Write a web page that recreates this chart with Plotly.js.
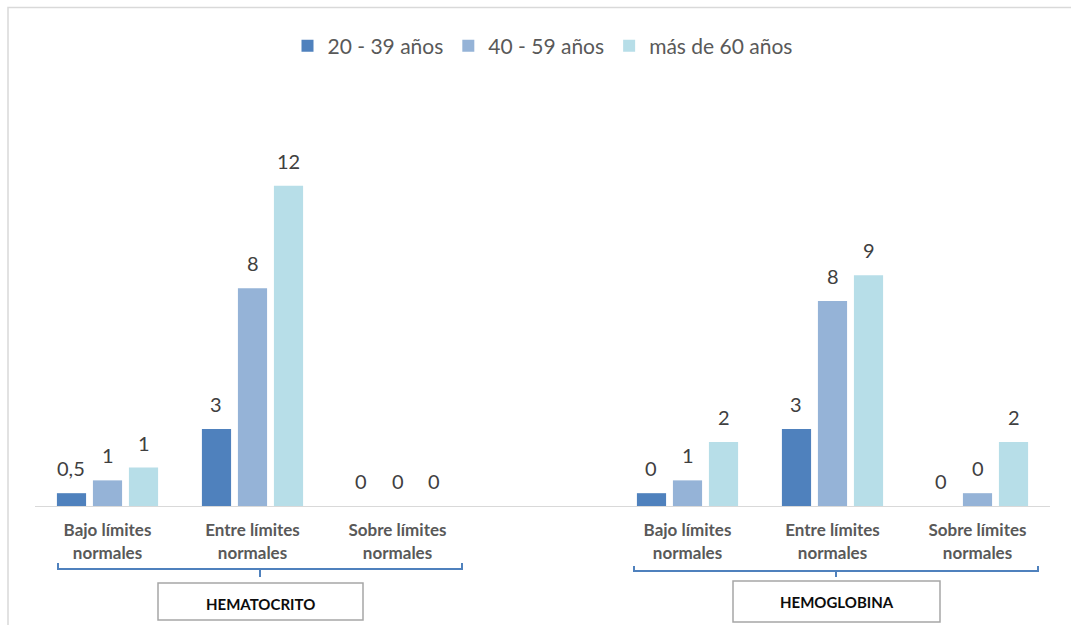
<!DOCTYPE html>
<html>
<head>
<meta charset="utf-8">
<script src="https://cdn.plot.ly/plotly-3.0.1.min.js"></script>
<style>html,body{margin:0;padding:0;background:#fff}#chart{width:1071px;height:625px}</style>
</head>
<body>
<div id="chart"></div>
<script>
// ---- data ----
var categories = ['Bajo límites<br>normales', 'Entre límites<br>normales', 'Sobre límites<br>normales',
                  'Bajo límites<br>normales', 'Entre límites<br>normales', 'Sobre límites<br>normales'];
var positions = [0, 1, 2, 4, 5, 6];
var groupNames = ['HEMATOCRITO', 'HEMOGLOBINA'];
var seriesNames = ['20 - 39 años', '40 - 59 años', 'más de 60 años'];
var values20_39 = [0.5, 3, 0, 0.5, 3, 0];
var values40_59 = [1, 8.5, 0, 1, 8, 0.5];
var values60 = [1.5, 12.5, 0, 2.5, 9, 2.5];
var labels20_39 = ['0,5', '3', '0', '0', '3', '0'];
var labels40_59 = ['1', '8', '0', '1', '8', '0'];
var labels60 = ['1', '12', '0', '2', '9', '2'];

// ---- style ----
var colors = ['#4F81BD', '#95B3D7', '#B7DEE8'];
var FONT = 'Lato, "Open Sans", sans-serif';
var W = 1071, H = 625, ML = 35, MR = 21, MT = 80, MB = 119;
var BARGAP = 0.255, BARGROUPGAP = 0.19;
var pw = W - ML - MR, ph = H - MT - MB;
function X(px) { return (px - ML) / pw; }
function Y(py) { return (H - MB - py) / ph; }

var allValues = [values20_39, values40_59, values60];
var allLabels = [labels20_39, labels40_59, labels60];

var traces = allValues.map(function (vals, s) {
  return {
    type: 'bar', x: positions, y: vals, name: seriesNames[s],
    marker: { color: colors[s] }, hoverinfo: 'skip'
  };
});

// value labels above each bar
var annotations = [];
var slot = (1 - BARGAP) / 3;
allValues.forEach(function (vals, s) {
  vals.forEach(function (v, i) {
    annotations.push({
      x: positions[i] + (s - 1) * slot, y: v, xref: 'x', yref: 'y',
      text: allLabels[s][i], showarrow: false, yanchor: 'middle', yshift: 25,
      font: { family: FONT, size: 20, color: '#404040' }
    });
  });
});

// group labels in boxes
var boxes = [[158, 583, 363, 620, 260, 604], [733, 581, 940, 622, 837, 602]];
boxes.forEach(function (b, g) {
  annotations.push({
    x: X(b[4]), y: Y(b[5]), xref: 'paper', yref: 'paper', text: '<b>' + groupNames[g] + '</b>',
    showarrow: false, xanchor: 'center', yanchor: 'middle',
    font: { family: FONT, size: 15, color: '#0d0d0d' }
  });
});

var shapes = [];
// outer chart border
shapes.push({ type: 'rect', xref: 'paper', yref: 'paper', x0: X(8), x1: X(1090), y0: Y(7.5), y1: Y(640),
  line: { color: '#D9D9D9', width: 1.5 }, fillcolor: 'rgba(0,0,0,0)', layer: 'below' });
// brackets
var brackets = [[58, 462, 569, 563, 260, 577], [634, 1038, 571, 566, 836, 577]];
brackets.forEach(function (b) {
  var p = 'M' + X(b[0]) + ',' + Y(b[3]) + ' L' + X(b[0]) + ',' + Y(b[2]) + ' L' + X(b[1]) + ',' + Y(b[2]) +
    ' L' + X(b[1]) + ',' + Y(b[3]);
  shapes.push({ type: 'path', xref: 'paper', yref: 'paper', path: p, line: { color: '#4F81BD', width: 2 } });
  shapes.push({ type: 'line', xref: 'paper', yref: 'paper', x0: X(b[4]), x1: X(b[4]), y0: Y(b[2]), y1: Y(b[5]),
    line: { color: '#4F81BD', width: 2 } });
});
boxes.forEach(function (b) {
  shapes.push({ type: 'rect', xref: 'paper', yref: 'paper', x0: X(b[0]), x1: X(b[2]), y0: Y(b[1]), y1: Y(b[3]),
    line: { color: '#A6A6A6', width: 1.5 }, fillcolor: '#ffffff' });
});

var layout = {
  width: W, height: H,
  margin: { l: ML, r: MR, t: MT, b: MB },
  paper_bgcolor: '#ffffff', plot_bgcolor: '#ffffff',
  barmode: 'group', bargap: BARGAP, bargroupgap: BARGROUPGAP,
  font: { family: FONT, color: '#595959' },
  showlegend: true,
  legend: {
    orientation: 'h', x: 0.5, xanchor: 'center', y: 1 - 46 / H, yref: 'container', yanchor: 'middle',
    font: { family: FONT, size: 21, color: '#595959' }, traceorder: 'normal'
  },
  xaxis: {
    range: [-0.5, 6.5], tickvals: positions, ticktext: categories.map(function (c) { return '<b>' + c + '</b>'; }),
    tickfont: { family: FONT, size: 17, color: '#595959' }, showline: true, linecolor: '#D9D9D9', linewidth: 1,
    ticks: '', ticklabelstandoff: 9, showgrid: false, zeroline: false, fixedrange: true
  },
  yaxis: {
    range: [0, ph / 25.63], visible: false, showgrid: false, zeroline: false, fixedrange: true
  },
  annotations: annotations,
  shapes: shapes
};

Plotly.newPlot('chart', traces, layout, { staticPlot: true, displayModeBar: false });
</script>
</body>
</html>
